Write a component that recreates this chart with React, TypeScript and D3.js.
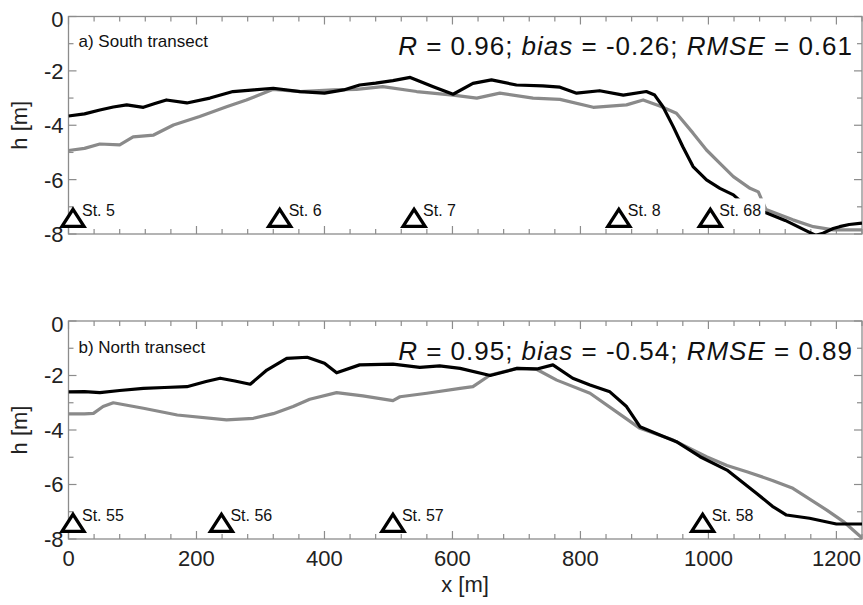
import { useEffect, useRef } from "react";
import * as d3 from "d3";

// South transect (a)
const southX = [0, 25, 49, 70, 91, 117, 135, 153, 185, 221, 257, 290, 320, 362, 400, 430, 455, 480, 507, 534, 570, 601, 632, 661, 700, 741, 768, 794, 830, 867, 903, 916, 929, 945, 960, 976, 997, 1018, 1039, 1060, 1091, 1120, 1150, 1168, 1179, 1195, 1205, 1220, 1240];
const southBlack = [-3.66, -3.58, -3.44, -3.33, -3.25, -3.34, -3.2, -3.07, -3.18, -3.0, -2.76, -2.7, -2.64, -2.76, -2.82, -2.7, -2.52, -2.45, -2.36, -2.24, -2.58, -2.86, -2.46, -2.33, -2.52, -2.55, -2.6, -2.82, -2.73, -2.89, -2.76, -2.89, -3.32, -4.05, -4.79, -5.52, -6.01, -6.32, -6.56, -7.0, -7.23, -7.5, -7.85, -8.05, -7.97, -7.8, -7.73, -7.65, -7.6];
const southGrayX = [0, 25, 49, 80, 101, 133, 164, 205, 247, 278, 320, 362, 414, 450, 491, 544, 601, 638, 674, 726, 768, 820, 872, 898, 924, 950, 976, 997, 1018, 1039, 1065, 1078, 1090, 1132, 1164, 1195, 1240];
const southGray = [-4.93, -4.85, -4.69, -4.72, -4.43, -4.36, -3.99, -3.68, -3.32, -3.07, -2.68, -2.76, -2.7, -2.68, -2.58, -2.76, -2.89, -3.0, -2.82, -3.0, -3.05, -3.34, -3.25, -3.07, -3.29, -3.56, -4.29, -4.91, -5.4, -5.89, -6.32, -6.45, -7.1, -7.48, -7.73, -7.85, -7.85];
const southStations = ["St. 5", "St. 6", "St. 7", "St. 8", "St. 68"];
const southStationX = [7, 330, 540, 860, 1003];

// North transect (b)
const northX = [0, 25, 49, 80, 117, 150, 185, 215, 237, 260, 284, 310, 341, 373, 400, 419, 455, 507, 549, 580, 612, 659, 701, 732, 757, 788, 815, 846, 872, 893, 924, 950, 987, 1029, 1075, 1100, 1122, 1158, 1200, 1240];
const northBlack = [-2.6, -2.59, -2.63, -2.55, -2.47, -2.44, -2.41, -2.22, -2.1, -2.2, -2.32, -1.8, -1.37, -1.33, -1.55, -1.9, -1.61, -1.58, -1.7, -1.65, -1.74, -2.0, -1.74, -1.76, -1.61, -2.1, -2.35, -2.6, -3.14, -3.88, -4.18, -4.43, -4.98, -5.47, -6.32, -6.8, -7.12, -7.24, -7.45, -7.45];
const northGrayX = [0, 25, 39, 54, 70, 117, 170, 247, 289, 320, 351, 377, 419, 460, 507, 518, 560, 612, 632, 659, 701, 732, 763, 815, 867, 893, 945, 997, 1029, 1060, 1100, 1132, 1185, 1211, 1226, 1240];
const northGray = [-3.41, -3.41, -3.39, -3.14, -3.0, -3.2, -3.45, -3.63, -3.57, -3.4, -3.14, -2.87, -2.63, -2.75, -2.92, -2.78, -2.65, -2.47, -2.41, -1.98, -1.74, -1.78, -2.17, -2.65, -3.51, -3.94, -4.37, -4.98, -5.3, -5.53, -5.85, -6.14, -6.94, -7.36, -7.67, -7.96];
const northStations = ["St. 55", "St. 56", "St. 57", "St. 58"];
const northStationX = [7, 239, 507, 991];

const xTicks = d3.range(0, 1241, 40);
const xLabels = [0, 200, 400, 600, 800, 1000, 1200];
const yTicks = d3.range(-8, 1, 1);
const yLabels = [0, -2, -4, -6, -8];

const FONT = "'Liberation Sans', Arial, Helvetica, sans-serif";
const GRAY_AXIS = "#8c8c8c";

const App = () => {
  const svgRef = useRef<SVGSVGElement>(null);
  const width = 863;
  const height = 605;

  useEffect(() => {
    const svg = d3.select(svgRef.current);
    svg.selectAll("*").remove();
    const x = d3.scaleLinear().domain([0, 1240]).range([68.5, 862]);

    const panels = [
      {
        id: "a",
        range: [234, 16.5],
        title: "a) South transect",
        stats: ["0.96", "-0.26", "0.61"],
        statsY: 55,
        titleY: 47,
        bx: southX, black: southBlack, gx: southGrayX, gray: southGray,
        st: southStations, stx: southStationX,
      },
      {
        id: "b",
        range: [539, 321],
        title: "b) North transect",
        stats: ["0.95", "-0.54", "0.89"],
        statsY: 360,
        titleY: 353,
        bx: northX, black: northBlack, gx: northGrayX, gray: northGray,
        st: northStations, stx: northStationX,
      },
    ];

    panels.forEach((p, pi) => {
      const y = d3.scaleLinear().domain([-8, 0]).range(p.range);
      const [x0, x1] = x.range();
      const [y0, y1] = [y(0), y(-8)];
      const g = svg.append("g");

      g.append("clipPath")
        .attr("id", "clip-" + p.id)
        .append("rect")
        .attr("x", x0)
        .attr("y", y0)
        .attr("width", x1 - x0)
        .attr("height", y1 - y0);

      // tick marks, inward on all four sides
      xTicks.forEach((t) => {
        const len = t % 200 === 0 ? 8 : 5;
        g.append("line").attr("x1", x(t)).attr("x2", x(t)).attr("y1", y1).attr("y2", y1 - len)
          .attr("stroke", GRAY_AXIS).attr("stroke-width", 1.2);
        g.append("line").attr("x1", x(t)).attr("x2", x(t)).attr("y1", y0).attr("y2", y0 + len)
          .attr("stroke", GRAY_AXIS).attr("stroke-width", 1.2);
      });
      yTicks.forEach((t) => {
        const len = t % 2 === 0 ? 8 : 5;
        g.append("line").attr("x1", x0).attr("x2", x0 + len).attr("y1", y(t)).attr("y2", y(t))
          .attr("stroke", GRAY_AXIS).attr("stroke-width", 1.2);
        g.append("line").attr("x1", x1).attr("x2", x1 - len).attr("y1", y(t)).attr("y2", y(t))
          .attr("stroke", GRAY_AXIS).attr("stroke-width", 1.2);
      });
      g.append("rect")
        .attr("x", x0).attr("y", y0).attr("width", x1 - x0).attr("height", y1 - y0)
        .attr("fill", "none").attr("stroke", GRAY_AXIS).attr("stroke-width", 1.3);

      // y tick labels
      yLabels.forEach((t) => {
        g.append("text")
          .attr("x", x0 - 5)
          .attr("y", y(t) + (t === 0 ? 3 : 0))
          .attr("dy", "0.36em")
          .attr("text-anchor", "end")
          .style("font-family", FONT)
          .style("font-size", "22px")
          .attr("fill", "#222")
          .text(t);
      });

      g.append("text")
        .attr("transform", `translate(27, ${(y0 + y1) / 2}) rotate(-90)`)
        .attr("text-anchor", "middle")
        .style("font-family", FONT)
        .style("font-size", "22px")
        .attr("fill", "#222")
        .text("h [m]");

      // profiles
      const line = d3.line<[number, number]>().x((d) => x(d[0])).y((d) => y(d[1]));
      const lines = g.append("g").attr("clip-path", `url(#clip-${p.id})`);
      lines.append("path")
        .attr("d", line(p.gx.map((v, i) => [v, p.gray[i]])))
        .attr("fill", "none").attr("stroke", "#8a8a8a").attr("stroke-width", 3.2)
        .attr("stroke-linejoin", "round");
      lines.append("path")
        .attr("d", line(p.bx.map((v, i) => [v, p.black[i]])))
        .attr("fill", "none").attr("stroke", "#000").attr("stroke-width", 3.2)
        .attr("stroke-linejoin", "round");

      // stations
      const yBase = y(-7.72);
      p.stx.forEach((sx, i) => {
        const cx = x(sx);
        const tri = d3.line()([[cx - 11, yBase], [cx, yBase - 17], [cx + 11, yBase]]) + "Z";
        const label = g.append("text")
          .attr("x", cx + 9)
          .attr("y", yBase - 10)
          .style("font-family", FONT)
          .style("font-size", "16px")
          .attr("fill", "#111")
          .text(p.st[i]);
        const bb = (label.node() as SVGTextElement).getBBox();
        g.insert("rect", () => label.node() as SVGTextElement)
          .attr("x", bb.x - 1).attr("y", bb.y - 4).attr("width", bb.width + 5).attr("height", bb.height + 6)
          .attr("fill", "#fff");
        g.append("path")
          .attr("d", tri)
          .attr("fill", "#fff").attr("stroke", "#000").attr("stroke-width", 3.3)
          .attr("stroke-linejoin", "miter");
      });

      // panel title
      g.append("text")
        .attr("x", x0 + 10)
        .attr("y", p.titleY)
        .style("font-family", FONT)
        .style("font-size", "17px")
        .attr("fill", "#111")
        .text(p.title);

      const st = g.append("text")
        .attr("x", 853)
        .attr("y", p.statsY)
        .attr("text-anchor", "end")
        .style("font-family", FONT)
        .style("font-size", "26px")
        .style("letter-spacing", "1px")
        .attr("fill", "#111");
      st.append("tspan").style("font-style", "italic").text("R");
      st.append("tspan").text(` = ${p.stats[0]}; `);
      st.append("tspan").style("font-style", "italic").text("bias");
      st.append("tspan").text(` = ${p.stats[1]}; `);
      st.append("tspan").style("font-style", "italic").text("RMSE");
      st.append("tspan").text(` = ${p.stats[2]}`);

      if (pi === 1) {
        xLabels.forEach((t) => {
          g.append("text")
            .attr("x", x(t))
            .attr("y", 566)
            .attr("text-anchor", "middle")
            .style("font-family", FONT)
            .style("font-size", "22px")
            .attr("fill", "#222")
            .text(t);
        });
        g.append("text")
          .attr("x", 465)
          .attr("y", 592)
          .attr("text-anchor", "middle")
          .style("font-family", FONT)
          .style("font-size", "22px")
          .attr("fill", "#222")
          .text("x [m]");
      }
    });
  }, []);

  return (
    <svg
      ref={svgRef}
      width={width}
      height={height}
      style={{ position: "absolute", left: 0, top: 0, background: "#fff" }}
    ></svg>
  );
};

export default App;
